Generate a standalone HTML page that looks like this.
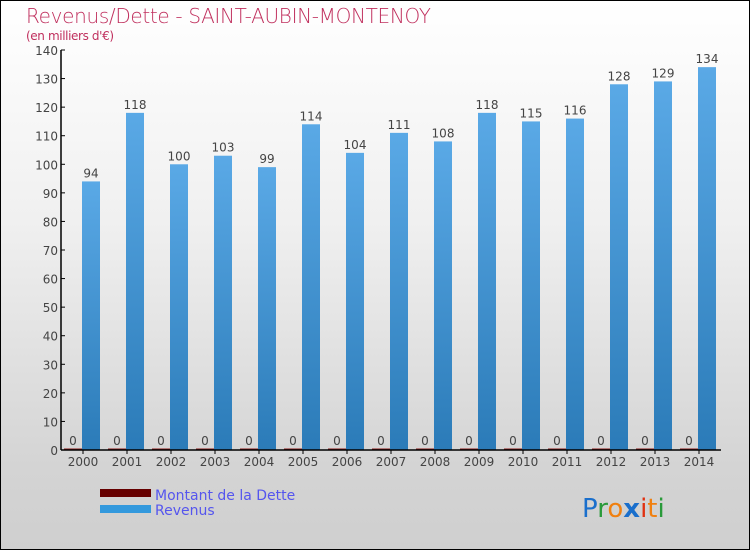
<!DOCTYPE html>
<html><head><meta charset="utf-8">
<style>
html,body{margin:0;padding:0}
body{width:750px;height:550px;overflow:hidden;font-family:"DejaVu Sans","Liberation Sans",sans-serif}
#frame{position:absolute;left:0;top:0;width:748px;height:548px;border:1px solid #000;background:linear-gradient(#ffffff 0%,#f0f0f0 40%,#d4d4d4 85%,#cfcfcf 100%)}
</style></head>
<body>
<div id="frame">
<svg id="chart" width="750" height="550" style="position:absolute;left:-1px;top:-1px">
<defs>
<linearGradient id="rev" x1="0" y1="0" x2="0" y2="1"><stop offset="0" stop-color="#5aa9e6"/><stop offset="1" stop-color="#2b7bb8"/></linearGradient>
</defs>
<text x="26" y="23" font-size="20" fill="#c0305e" style="font-family:'DejaVu Sans',sans-serif;font-weight:200" textLength="405">Revenus/Dette - SAINT-AUBIN-MONTENOY</text>
<text x="26" y="40" font-size="12" fill="#c0305e" textLength="88">(en milliers d'€)</text>
<g id="g"></g>
<g>
<rect x="100" y="489" width="51" height="8" fill="#660000"/>
<text x="155" y="500" font-size="14" fill="#5555ee">Montant de la Dette</text>
<rect x="100" y="505" width="51" height="8" fill="#3399dd"/>
<text x="155" y="515" font-size="14" fill="#5555ee">Revenus</text>
</g>
<g font-size="26" font-family="'DejaVu Sans',sans-serif">
<text x="582" y="517"><tspan fill="#1a6fcc">P</tspan><tspan fill="#2a9a3a">r</tspan><tspan fill="#f08010">o</tspan><tspan fill="#1a6fcc" font-weight="bold">x</tspan><tspan fill="#e03010">i</tspan><tspan fill="#f08010">t</tspan><tspan fill="#2a9a3a">i</tspan></text>
</g>
</svg>
</div>
<script>
const years=["2000","2001","2002","2003","2004","2005","2006","2007","2008","2009","2010","2011","2012","2013","2014"];
const revenus=[94,118,100,103,99,114,104,111,108,118,115,116,128,129,134];
const dette=[0,0,0,0,0,0,0,0,0,0,0,0,0,0,0];
const yTicks=[0,10,20,30,40,50,60,70,80,90,100,110,120,130,140];
const NS="http://www.w3.org/2000/svg";
const g=document.getElementById('g');
const x0=61,x1=721,yTop=50,yBot=450,yMax=140;
const gw=(x1-x0)/years.length;
function y(v){return yBot-(v/yMax)*(yBot-yTop);}
function gx(i){return x0+gw*i;}
function mk(tag,attrs){const e=document.createElementNS(NS,tag);for(const k in attrs)e.setAttribute(k,attrs[k]);g.appendChild(e);return e;}
// y axis
let ax=mk('line',{x1:x0,y1:yTop,x2:x0,y2:yBot,stroke:'#000','stroke-width':1.5});


yTicks.forEach(t=>{
 const tk=mk('line',{x1:x0,y1:y(t),x2:x0+4,y2:y(t),stroke:'#000'});
 
 
 const tl=mk('text',{x:x0-3,y:y(t)+5,'font-size':12,fill:'#444','text-anchor':'end'});
 tl.textContent=t;
 
 
});
years.forEach((yr,i)=>{
 const s=gx(i);
 const d=mk('rect',{x:s+3,y:y(dette[i])-1.5,width:18,height:(yBot-y(dette[i]))+1.5,fill:'#8b1a1a'});
 
 
 const dl=mk('text',{x:s+12,y:y(dette[i])-5,'font-size':12,fill:'#444','text-anchor':'middle'});
 dl.textContent=dette[i];
 
 
 const r=mk('rect',{x:s+21,y:y(revenus[i]),width:18,height:yBot-y(revenus[i]),fill:'url(#rev)'});
 
 
 const rl=mk('text',{x:s+30,y:y(revenus[i])-4,'font-size':12,fill:'#444','text-anchor':'middle'});
 rl.textContent=revenus[i];
 
 
 const tk=mk('line',{x1:s+gw/2,y1:yBot,x2:s+gw/2,y2:yBot+4,stroke:'#000'});
 
 
 const xl=mk('text',{x:s+gw/2,y:yBot+16,'font-size':12,fill:'#444','text-anchor':'middle'});
 xl.textContent=yr;
 
 
});
let xa=mk('line',{x1:x0,y1:yBot,x2:x1,y2:yBot,stroke:'#000','stroke-width':1.5});


</script>
</body></html>
